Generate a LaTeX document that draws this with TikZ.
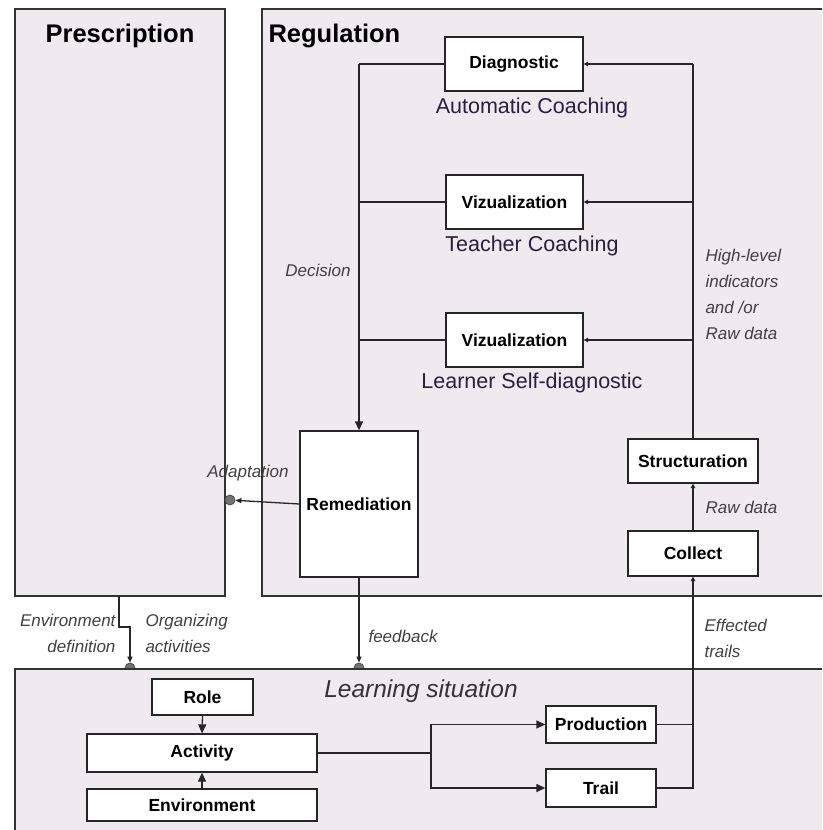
\documentclass[tikz,border=0pt]{standalone}
\usepackage{fontspec}
\setmainfont{Liberation Sans}
\usetikzlibrary{arrows.meta}
\definecolor{panelfill}{RGB}{238,234,238}
\definecolor{panelline}{RGB}{50,50,50}
\definecolor{labelcol}{RGB}{40,32,64}
\definecolor{dotfill}{RGB}{115,115,115}
\begin{document}
\begin{tikzpicture}[x=1pt,y=-1pt,
  panel/.style={draw=panelline,fill=panelfill,line width=1.5pt},
  box/.style={draw=black!85,fill=white,line width=1.3pt,inner sep=0pt,
    font=\fontsize{17.5}{20}\selectfont\bfseries},
  title/.style={font=\fontsize{25.5}{28}\selectfont\bfseries},
  coach/.style={text=labelcol,font=\fontsize{21.5}{24}\selectfont},
  lab/.style={text=black!75,font=\fontsize{17}{26}\selectfont\itshape},
  conn/.style={draw=black!85,line width=1.3pt},
  arr/.style={conn,-{Triangle[length=9pt,width=8pt]}},
  tiny/.style={conn,-{Triangle[length=4.5pt,width=4.5pt]}},
  dot/.style={circle,draw=black!70,fill=dotfill,line width=0.8pt,minimum size=10pt,inner sep=0pt}]
\useasboundingbox (0,0) rectangle (822,830);
\clip (0,0) rectangle (822,830);

% panels
\path[panel] (15,9) rectangle (225,596);
\path[panel] (262,9) rectangle (840,596);
\node[title] (presc) at (120,36) {Prescription};
\node[title,anchor=west] (regul) at (265,36) {Regulation};

% port dots (drawn before learning panel so lower half is hidden)
\node[dot] (envdot) at (130,668) {};
\node[dot] (fbdot) at (359,668) {};
\path[panel] (15,669) rectangle (840,850);
\node[font=\fontsize{24.5}{28}\selectfont\itshape,text=black!80] (learn) at (421,691) {Learning situation};

% regulation boxes
\node[box,minimum width=138pt,minimum height=54pt] (diag) at (514,64) {Diagnostic};
\node[box,minimum width=137pt,minimum height=54pt] (viz1) at (514.5,202) {Vizualization};
\node[box,minimum width=137pt,minimum height=54pt] (viz2) at (514.5,340) {Vizualization};
\node[box,minimum width=118pt,minimum height=146pt] (remed) at (359,504) {Remediation};
\node[box,minimum width=130pt,minimum height=44pt] (struct) at (693,461) {Structuration};
\node[box,minimum width=130pt,minimum height=45pt] (collect) at (693,553.5) {Collect};

\node[coach] (autoc) at (532,108) {Automatic Coaching};
\node[coach] (teachc) at (532,246) {Teacher Coaching};
\node[coach] (learnc) at (532,383) {Learner Self-diagnostic};

% learning situation boxes
\node[box,minimum width=101pt,minimum height=36pt] (role) at (202.5,697) {Role};
\node[box,minimum width=230pt,minimum height=38pt] (activity) at (202,753) {Activity};
\node[box,minimum width=230pt,minimum height=32pt] (environment) at (202,805) {Environment};
\node[box,minimum width=110pt,minimum height=37pt] (production) at (601,724.5) {Production};
\node[box,minimum width=110pt,minimum height=38pt] (trail) at (601,788) {Trail};

% adaptation dot
\node[dot] (adapt) at (230,500) {};

% coordinates
\coordinate (lt) at (359,64);
\coordinate (rt) at (693,64);
\coordinate (pb) at (119,596);
\coordinate (pb1) at (119,627);
\coordinate (pb2) at (130,627);
\coordinate (fork) at (431,753);

% left decision bus
\draw[conn] (diag.west) -- (lt);
\draw[arr] (lt) -- (remed.north);
\draw[conn] (viz1.west) -- (viz1.west -| lt);
\draw[conn] (viz2.west) -- (viz2.west -| lt);

% right indicator bus
\draw[conn] (struct.north) -- (rt);
\draw[tiny] (rt) -- (diag.east);
\draw[tiny] (viz1.east -| rt) -- (viz1.east);
\draw[tiny] (viz2.east -| rt) -- (viz2.east);
\draw[tiny] (collect.north) -- (struct.south);

% adaptation
\draw[conn,-{Triangle[length=6pt,width=5pt]}] (remed.west) -- (adapt);

% prescription to learning situation
\draw[conn,-{Triangle[length=6pt,width=5pt]}] (pb) -- (pb1) -- (pb2) -- (envdot.north);
\draw[conn,-{Triangle[length=6pt,width=5pt]}] (remed.south) -- (fbdot.north);

% learning situation internals
\draw[arr] (role.south) -- (activity.north);
\draw[arr] (environment.north) -- (activity.south);
\draw[conn] (activity.east) -- (fork);
\draw[arr] (fork) |- (production.west);
\draw[arr] (fork) |- (trail.west);
\draw[conn] (production.east) -- (production.east -| collect.south);
\draw[tiny] (trail.east) -| (collect.south);

% labels
\node[lab] (decision) at (318,270) {Decision};
\node[lab,anchor=north west,align=left] (hl) at (702,246) {High-level\\indicators\\and /or\\Raw data};
\node[lab] (adaptl) at (248,473) {Adaptation};
\node[lab,anchor=west] (rawd) at (702,507) {Raw data};
\node[lab,anchor=east,align=right] (envdef) at (119,633) {Environment\\definition};
\node[lab,anchor=west,align=left] (orgact) at (142,633) {Organizing\\activities};
\node[lab,anchor=west] (fbl) at (365,636) {feedback};
\node[lab,anchor=west,align=left] (efft) at (701,638) {Effected\\trails};
\end{tikzpicture}
\end{document}
